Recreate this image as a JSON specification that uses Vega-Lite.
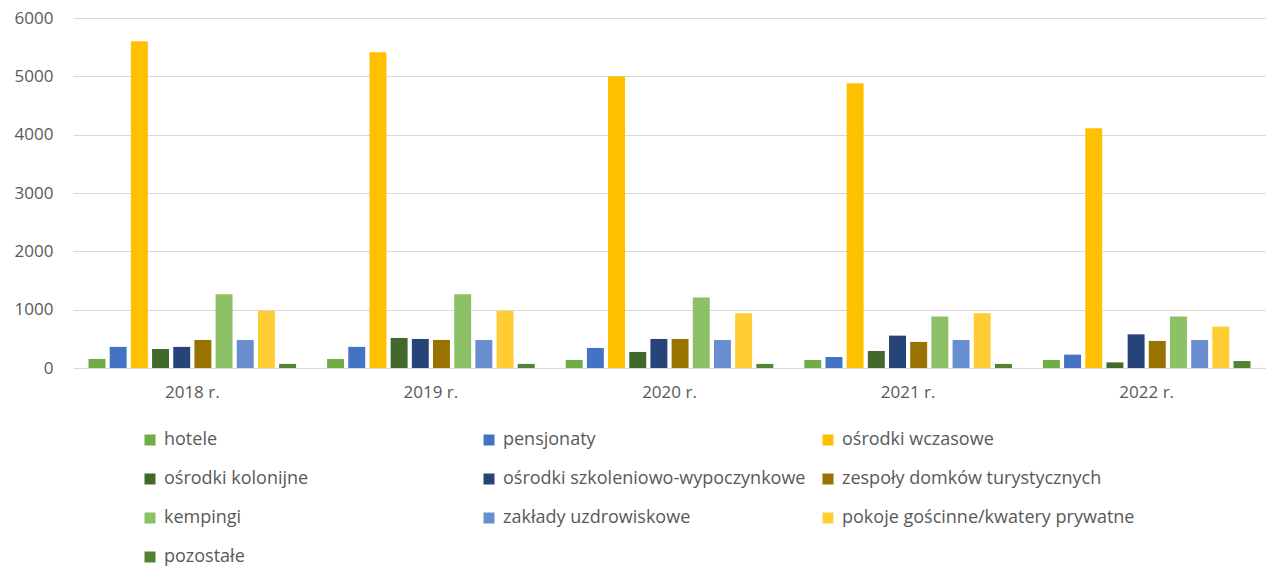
{
  "$schema": "https://vega.github.io/schema/vega-lite/v6.json",
  "autosize": {"type": "none"},
  "padding": {"left": 73, "top": 18, "right": 0, "bottom": 200},
  "width": 1193,
  "height": 350,
  "background": "white",
  "config": {
    "view": {"stroke": null},
    "font": "Open Sans"
  },
  "data": {
    "values": [
      {"rok": "2018 r.", "typ": "hotele", "liczba": 155},
      {"rok": "2018 r.", "typ": "pensjonaty", "liczba": 362},
      {"rok": "2018 r.", "typ": "ośrodki wczasowe", "liczba": 5600},
      {"rok": "2018 r.", "typ": "ośrodki kolonijne", "liczba": 327},
      {"rok": "2018 r.", "typ": "ośrodki szkoleniowo-wypoczynkowe", "liczba": 362},
      {"rok": "2018 r.", "typ": "zespoły domków turystycznych", "liczba": 481},
      {"rok": "2018 r.", "typ": "kempingi", "liczba": 1265},
      {"rok": "2018 r.", "typ": "zakłady uzdrowiskowe", "liczba": 481},
      {"rok": "2018 r.", "typ": "pokoje gościnne/kwatery prywatne", "liczba": 980},
      {"rok": "2018 r.", "typ": "pozostałe", "liczba": 70},
      {"rok": "2019 r.", "typ": "hotele", "liczba": 155},
      {"rok": "2019 r.", "typ": "pensjonaty", "liczba": 362},
      {"rok": "2019 r.", "typ": "ośrodki wczasowe", "liczba": 5415},
      {"rok": "2019 r.", "typ": "ośrodki kolonijne", "liczba": 515},
      {"rok": "2019 r.", "typ": "ośrodki szkoleniowo-wypoczynkowe", "liczba": 498},
      {"rok": "2019 r.", "typ": "zespoły domków turystycznych", "liczba": 481},
      {"rok": "2019 r.", "typ": "kempingi", "liczba": 1265},
      {"rok": "2019 r.", "typ": "zakłady uzdrowiskowe", "liczba": 481},
      {"rok": "2019 r.", "typ": "pokoje gościnne/kwatery prywatne", "liczba": 980},
      {"rok": "2019 r.", "typ": "pozostałe", "liczba": 70},
      {"rok": "2020 r.", "typ": "hotele", "liczba": 137},
      {"rok": "2020 r.", "typ": "pensjonaty", "liczba": 344},
      {"rok": "2020 r.", "typ": "ośrodki wczasowe", "liczba": 5000},
      {"rok": "2020 r.", "typ": "ośrodki kolonijne", "liczba": 275},
      {"rok": "2020 r.", "typ": "ośrodki szkoleniowo-wypoczynkowe", "liczba": 498},
      {"rok": "2020 r.", "typ": "zespoły domków turystycznych", "liczba": 498},
      {"rok": "2020 r.", "typ": "kempingi", "liczba": 1208},
      {"rok": "2020 r.", "typ": "zakłady uzdrowiskowe", "liczba": 481},
      {"rok": "2020 r.", "typ": "pokoje gościnne/kwatery prywatne", "liczba": 938},
      {"rok": "2020 r.", "typ": "pozostałe", "liczba": 70},
      {"rok": "2021 r.", "typ": "hotele", "liczba": 137},
      {"rok": "2021 r.", "typ": "pensjonaty", "liczba": 189},
      {"rok": "2021 r.", "typ": "ośrodki wczasowe", "liczba": 4880},
      {"rok": "2021 r.", "typ": "ośrodki kolonijne", "liczba": 292},
      {"rok": "2021 r.", "typ": "ośrodki szkoleniowo-wypoczynkowe", "liczba": 555},
      {"rok": "2021 r.", "typ": "zespoły domków turystycznych", "liczba": 447},
      {"rok": "2021 r.", "typ": "kempingi", "liczba": 881},
      {"rok": "2021 r.", "typ": "zakłady uzdrowiskowe", "liczba": 481},
      {"rok": "2021 r.", "typ": "pokoje gościnne/kwatery prywatne", "liczba": 938},
      {"rok": "2021 r.", "typ": "pozostałe", "liczba": 70},
      {"rok": "2022 r.", "typ": "hotele", "liczba": 137},
      {"rok": "2022 r.", "typ": "pensjonaty", "liczba": 229},
      {"rok": "2022 r.", "typ": "ośrodki wczasowe", "liczba": 4110},
      {"rok": "2022 r.", "typ": "ośrodki kolonijne", "liczba": 96},
      {"rok": "2022 r.", "typ": "ośrodki szkoleniowo-wypoczynkowe", "liczba": 577},
      {"rok": "2022 r.", "typ": "zespoły domków turystycznych", "liczba": 464},
      {"rok": "2022 r.", "typ": "kempingi", "liczba": 881},
      {"rok": "2022 r.", "typ": "zakłady uzdrowiskowe", "liczba": 481},
      {"rok": "2022 r.", "typ": "pokoje gościnne/kwatery prywatne", "liczba": 710},
      {"rok": "2022 r.", "typ": "pozostałe", "liczba": 120}
    ]
  },
  "mark": {"type": "bar"},
  "encoding": {
    "x": {
      "field": "rok",
      "type": "nominal",
      "sort": null,
      "scale": {"paddingInner": 0.13, "paddingOuter": 0.065},
      "axis": {
        "title": null,
        "labelAngle": 0,
        "domain": false,
        "ticks": false,
        "labelPadding": 16,
        "labelFontSize": 17,
        "labelColor": "#595959"
      }
    },
    "xOffset": {
      "field": "typ",
      "type": "nominal",
      "sort": ["hotele", "pensjonaty", "ośrodki wczasowe", "ośrodki kolonijne", "ośrodki szkoleniowo-wypoczynkowe", "zespoły domków turystycznych", "kempingi", "zakłady uzdrowiskowe", "pokoje gościnne/kwatery prywatne", "pozostałe"],
      "scale": {"paddingInner": 0.2, "paddingOuter": 0}
    },
    "y": {
      "field": "liczba",
      "type": "quantitative",
      "scale": {"domain": [0, 6000], "nice": false},
      "axis": {
        "title": null,
        "values": [0, 1000, 2000, 3000, 4000, 5000, 6000],
        "format": "d",
        "domain": false,
        "ticks": false,
        "labelPadding": 20,
        "labelFontSize": 17,
        "labelColor": "#595959",
        "gridColor": "#D9D9D9",
        "gridWidth": 1.2
      }
    },
    "color": {
      "field": "typ",
      "type": "nominal",
      "sort": ["hotele", "pensjonaty", "ośrodki wczasowe", "ośrodki kolonijne", "ośrodki szkoleniowo-wypoczynkowe", "zespoły domków turystycznych", "kempingi", "zakłady uzdrowiskowe", "pokoje gościnne/kwatery prywatne", "pozostałe"],
      "scale": {
        "domain": ["hotele", "pensjonaty", "ośrodki wczasowe", "ośrodki kolonijne", "ośrodki szkoleniowo-wypoczynkowe", "zespoły domków turystycznych", "kempingi", "zakłady uzdrowiskowe", "pokoje gościnne/kwatery prywatne", "pozostałe"],
        "range": ["#70AD47", "#4472C4", "#FFC000", "#43682B", "#264478", "#997300", "#8CC168", "#698ED0", "#FFCD33", "#548235"]
      },
      "legend": {
        "title": null,
        "orient": "none",
        "legendX": 68,
        "legendY": 413,
        "direction": "horizontal",
        "columns": 3,
        "gridAlign": "all",
        "columnPadding": 13,
        "rowPadding": 21,
        "symbolType": "square",
        "symbolSize": 121,
        "symbolStrokeWidth": 0,
        "symbolOpacity": 1,
        "labelFontSize": 18,
        "labelColor": "#595959",
        "labelLimit": 500,
        "labelOffset": 5
      }
    }
  }
}
